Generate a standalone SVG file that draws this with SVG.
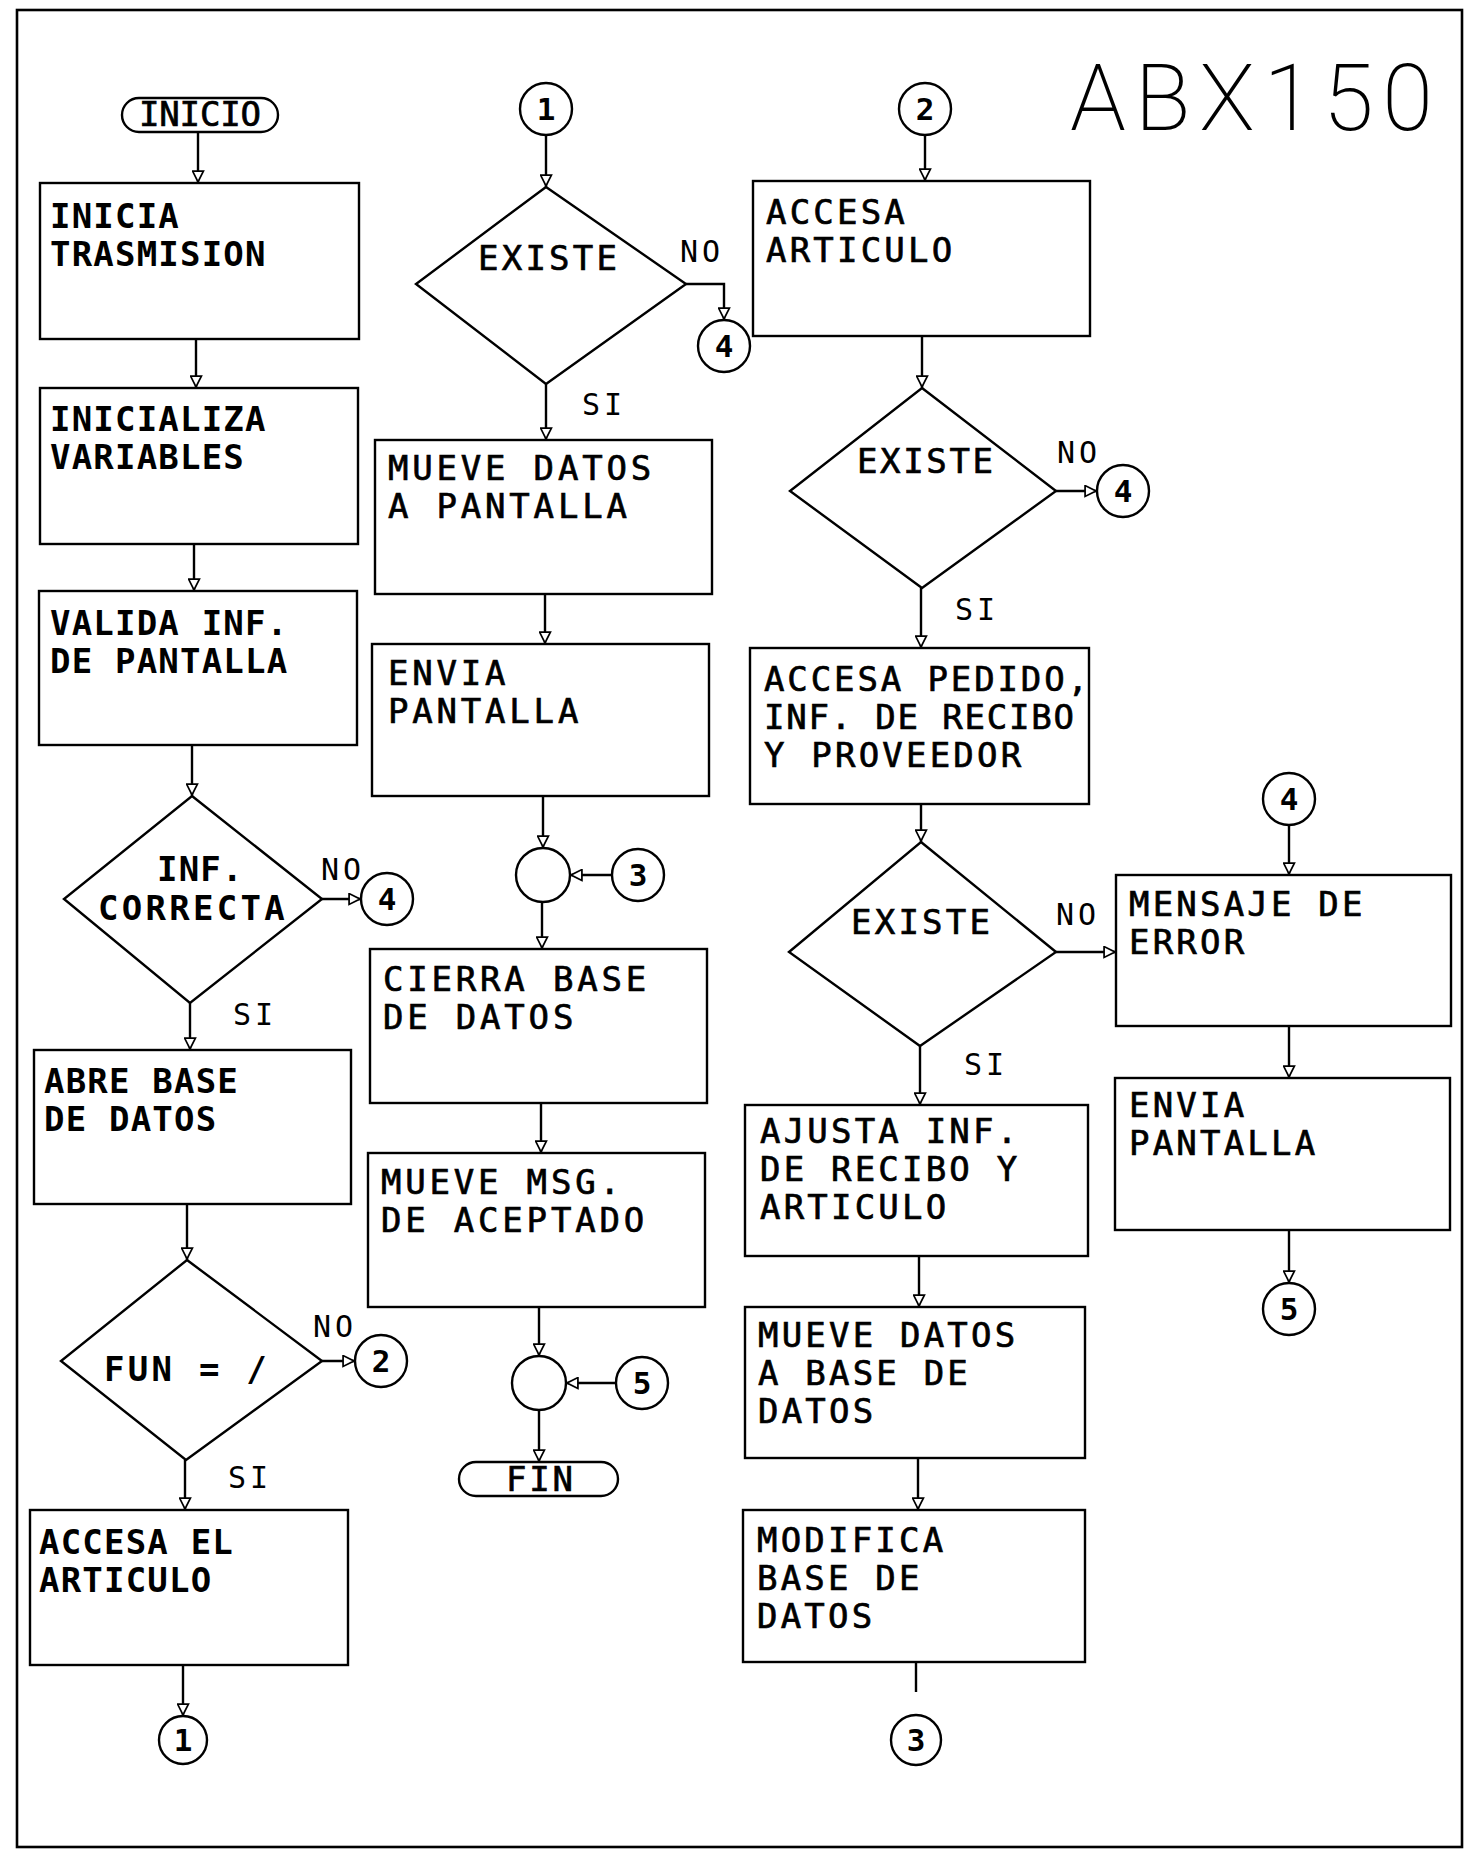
<svg xmlns="http://www.w3.org/2000/svg" width="1465" height="1854" viewBox="0 0 1465 1854">
<style>
.s{fill:none;stroke:#000;stroke-width:2.4}
.b{fill:#fff;stroke:#000;stroke-width:2.4}
.t{font-family:"DejaVu Sans Mono","Liberation Mono",monospace;font-size:34px;fill:#000;stroke:#000;stroke-width:0.7px}
.k{font-weight:bold;letter-spacing:1.2px;stroke-width:0}
.m{letter-spacing:3.8px}
.r{letter-spacing:3.2px}
.l{font-family:"DejaVu Sans Mono","Liberation Mono",monospace;font-size:30px;fill:#000;letter-spacing:4px}
.n{font-family:"DejaVu Sans Mono","Liberation Mono",monospace;font-size:31px;font-weight:bold;fill:#000;text-anchor:middle}
</style>
<defs>
<marker id="a" viewBox="0 0 12 12" refX="12" refY="6" markerWidth="13" markerHeight="13" markerUnits="userSpaceOnUse" orient="auto">
<path d="M1,1 L11,6 L1,11 Z" fill="#fff" stroke="#000" stroke-width="1.6"/>
</marker>
</defs>
<rect x="17" y="10" width="1445" height="1837" fill="#fff" stroke="#000" stroke-width="2.6"/>
<text x="1070" y="130" font-family="Roboto,'Liberation Sans',sans-serif" font-weight="200" font-size="92" textLength="363" lengthAdjust="spacing" fill="#000">ABX150</text>

<g id="connectors" class="s">
<path d="M198,132 V183" marker-end="url(#a)"/>
<path d="M196,339 V388" marker-end="url(#a)"/>
<path d="M194,544 V591" marker-end="url(#a)"/>
<path d="M192,745 V796" marker-end="url(#a)"/>
<path d="M322,899 H361" marker-end="url(#a)"/>
<path d="M190,1003 V1050" marker-end="url(#a)"/>
<path d="M187,1204 V1260" marker-end="url(#a)"/>
<path d="M322,1361 H355" marker-end="url(#a)"/>
<path d="M185,1460 V1510" marker-end="url(#a)"/>
<path d="M183,1665 V1716" marker-end="url(#a)"/>
<path d="M546,135 V187" marker-end="url(#a)"/>
<path d="M686,284 H724 V320" marker-end="url(#a)"/>
<path d="M546,384 V440" marker-end="url(#a)"/>
<path d="M545,594 V644" marker-end="url(#a)"/>
<path d="M543,796 V848" marker-end="url(#a)"/>
<path d="M612,875 H570" marker-end="url(#a)"/>
<path d="M542,902 V949" marker-end="url(#a)"/>
<path d="M541,1103 V1153" marker-end="url(#a)"/>
<path d="M539,1307 V1356" marker-end="url(#a)"/>
<path d="M616,1383 H566" marker-end="url(#a)"/>
<path d="M539,1410 V1462" marker-end="url(#a)"/>
<path d="M925,135 V181" marker-end="url(#a)"/>
<path d="M922,336 V388" marker-end="url(#a)"/>
<path d="M1056,491 H1097" marker-end="url(#a)"/>
<path d="M921,588 V648" marker-end="url(#a)"/>
<path d="M921,804 V842" marker-end="url(#a)"/>
<path d="M1056,952 H1116" marker-end="url(#a)"/>
<path d="M920,1046 V1105" marker-end="url(#a)"/>
<path d="M919,1256 V1307" marker-end="url(#a)"/>
<path d="M918,1458 V1510" marker-end="url(#a)"/>
<path d="M916,1662 V1692"/>
<path d="M1289,825 V875" marker-end="url(#a)"/>
<path d="M1289,1026 V1078" marker-end="url(#a)"/>
<path d="M1289,1230 V1283" marker-end="url(#a)"/>
</g>

<g id="inicio"><rect x="122" y="98" width="156" height="34" rx="17" class="b"/><text class="t" x="200" y="126" font-size="32" text-anchor="middle" textLength="122" lengthAdjust="spacing">INICIO</text></g>
<g id="box1"><rect x="40" y="183" width="319" height="156" class="b"/><text class="t k" x="50" y="228">INICIA</text><text class="t k" x="50" y="266">TRASMISION</text></g>
<g id="box2"><rect x="40" y="388" width="318" height="156" class="b"/><text class="t k" x="50" y="431">INICIALIZA</text><text class="t k" x="50" y="469">VARIABLES</text></g>
<g id="box3"><rect x="39" y="591" width="318" height="154" class="b"/><text class="t k" x="50" y="635">VALIDA INF.</text><text class="t k" x="50" y="673">DE PANTALLA</text></g>
<g id="dec1"><polygon points="192,796 322,899 190,1003 64,899" class="b"/><text class="t k" x="157" y="881">INF.</text><text class="t k" x="98" y="920" textLength="188" lengthAdjust="spacing">CORRECTA</text><text class="l" x="321" y="880">NO</text><text class="l" x="233" y="1025">SI</text></g>
<g id="c4a"><circle cx="387" cy="899" r="26" class="b"/><text class="n" x="387" y="910">4</text></g>
<g id="box4"><rect x="34" y="1050" width="317" height="154" class="b"/><text class="t k" x="44" y="1093">ABRE BASE</text><text class="t k" x="44" y="1131">DE DATOS</text></g>
<g id="dec2"><polygon points="187,1260 322,1361 186,1460 61,1361" class="b"/><text class="t k" x="104" y="1381" textLength="164" lengthAdjust="spacing">FUN = /</text><text class="l" x="313" y="1337">NO</text><text class="l" x="228" y="1488">SI</text></g>
<g id="c2a"><circle cx="381" cy="1361" r="26" class="b"/><text class="n" x="381" y="1372">2</text></g>
<g id="box5"><rect x="30" y="1510" width="318" height="155" class="b"/><text class="t k" x="39" y="1554">ACCESA EL</text><text class="t k" x="39" y="1592">ARTICULO</text></g>
<g id="c1b"><circle cx="183" cy="1740" r="24" class="b"/><text class="n" x="183" y="1751">1</text></g>

<g id="c1a"><circle cx="546" cy="109" r="26" class="b"/><text class="n" x="546" y="120">1</text></g>
<g id="dec3"><polygon points="546,187 686,284 546,384 416,284" class="b"/><text class="t" x="478" y="270" textLength="139" lengthAdjust="spacing">EXISTE</text><text class="l" x="680" y="262">NO</text><text class="l" x="582" y="415">SI</text></g>
<g id="c4b"><circle cx="724" cy="346" r="26" class="b"/><text class="n" x="724" y="357">4</text></g>
<g id="box6"><rect x="375" y="440" width="337" height="154" class="b"/><text class="t m" x="388" y="480">MUEVE DATOS</text><text class="t m" x="388" y="518">A PANTALLA</text></g>
<g id="box7"><rect x="372" y="644" width="337" height="152" class="b"/><text class="t m" x="388" y="685">ENVIA</text><text class="t m" x="388" y="723">PANTALLA</text></g>
<g id="j1"><circle cx="543" cy="875" r="27" class="b"/></g>
<g id="c3a"><circle cx="638" cy="875" r="26" class="b"/><text class="n" x="638" y="886">3</text></g>
<g id="box8"><rect x="370" y="949" width="337" height="154" class="b"/><text class="t m" x="383" y="991">CIERRA BASE</text><text class="t m" x="383" y="1029">DE DATOS</text></g>
<g id="box9"><rect x="368" y="1153" width="337" height="154" class="b"/><text class="t m" x="381" y="1194">MUEVE MSG.</text><text class="t m" x="381" y="1232">DE ACEPTADO</text></g>
<g id="j2"><circle cx="539" cy="1383" r="27" class="b"/></g>
<g id="c5a"><circle cx="642" cy="1383" r="26" class="b"/><text class="n" x="642" y="1394">5</text></g>
<g id="fin"><rect x="459" y="1462" width="159" height="34" rx="17" class="b"/><text class="t" x="506" y="1491" textLength="67" lengthAdjust="spacing">FIN</text></g>

<g id="c2b"><circle cx="925" cy="109" r="26" class="b"/><text class="n" x="925" y="120">2</text></g>
<g id="box10"><rect x="753" y="181" width="337" height="155" class="b"/><text class="t r" x="766" y="224">ACCESA</text><text class="t r" x="766" y="262">ARTICULO</text></g>
<g id="dec4"><polygon points="922,388 1056,491 922,588 790,491" class="b"/><text class="t" x="857" y="473" textLength="136" lengthAdjust="spacing">EXISTE</text><text class="l" x="1057" y="463">NO</text><text class="l" x="955" y="620">SI</text></g>
<g id="c4c"><circle cx="1123" cy="491" r="26" class="b"/><text class="n" x="1123" y="502">4</text></g>
<g id="box11"><rect x="750" y="648" width="339" height="156" class="b"/><text class="t" x="764" y="691" textLength="324" lengthAdjust="spacing">ACCESA PEDIDO,</text><text class="t" x="764" y="729" textLength="310" lengthAdjust="spacing">INF. DE RECIBO</text><text class="t r" x="764" y="767">Y PROVEEDOR</text></g>
<g id="dec5"><polygon points="921,842 1056,952 920,1046 789,952" class="b"/><text class="t" x="851" y="934" textLength="139" lengthAdjust="spacing">EXISTE</text><text class="l" x="1056" y="925">NO</text><text class="l" x="964" y="1075">SI</text></g>
<g id="box12"><rect x="745" y="1105" width="343" height="151" class="b"/><text class="t r" x="760" y="1143">AJUSTA INF.</text><text class="t r" x="760" y="1181">DE RECIBO Y</text><text class="t r" x="760" y="1219">ARTICULO</text></g>
<g id="box13"><rect x="745" y="1307" width="340" height="151" class="b"/><text class="t r" x="758" y="1347">MUEVE DATOS</text><text class="t r" x="758" y="1385">A BASE DE</text><text class="t r" x="758" y="1423">DATOS</text></g>
<g id="box14"><rect x="743" y="1510" width="342" height="152" class="b"/><text class="t r" x="757" y="1552">MODIFICA</text><text class="t r" x="757" y="1590">BASE DE</text><text class="t r" x="757" y="1628">DATOS</text></g>
<g id="c3b"><circle cx="916" cy="1740" r="25" class="b"/><text class="n" x="916" y="1751">3</text></g>

<g id="c4d"><circle cx="1289" cy="799" r="26" class="b"/><text class="n" x="1289" y="810">4</text></g>
<g id="box15"><rect x="1116" y="875" width="335" height="151" class="b"/><text class="t r" x="1129" y="916">MENSAJE DE</text><text class="t r" x="1129" y="954">ERROR</text></g>
<g id="box16"><rect x="1115" y="1078" width="335" height="152" class="b"/><text class="t r" x="1129" y="1117">ENVIA</text><text class="t r" x="1129" y="1155">PANTALLA</text></g>
<g id="c5b"><circle cx="1289" cy="1309" r="26" class="b"/><text class="n" x="1289" y="1320">5</text></g>
</svg>
